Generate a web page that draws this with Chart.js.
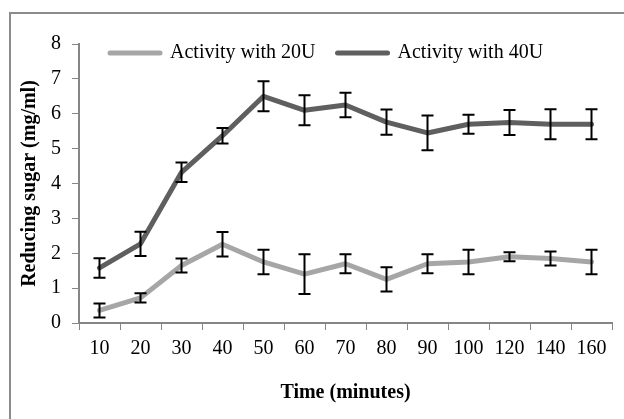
<!DOCTYPE html>
<html>
<head>
<meta charset="utf-8">
<script src="https://cdn.jsdelivr.net/npm/chart.js@4"></script>
<style>
  html, body { margin: 0; padding: 0; background: #fff; overflow: hidden; }
  #wrap { position: relative; width: 624px; height: 419px; overflow: hidden; }
  #frame { position: absolute; left: 9px; top: 12px; width: 700px; height: 500px; border: 2px solid #8c8c8c; box-sizing: border-box; }
  canvas { position: absolute; left: 0; top: 0; }
</style>
</head>
<body>
<div id="wrap">
  <div id="frame"></div>
  <canvas id="sugarChart" width="624" height="419"></canvas>
</div>
<script>
// Time points (minutes)
const timeLabels = ['10', '20', '30', '40', '50', '60', '70', '80', '90', '100', '120', '140', '160'];

// Reducing sugar (mg/ml)
const activity20 = [0.36, 0.72, 1.65, 2.26, 1.75, 1.40, 1.70, 1.25, 1.70, 1.75, 1.90, 1.85, 1.75];
const error20    = [0.20, 0.13, 0.20, 0.35, 0.35, 0.57, 0.27, 0.35, 0.27, 0.35, 0.13, 0.20, 0.35];

const activity40 = [1.58, 2.27, 4.32, 5.37, 6.50, 6.10, 6.25, 5.76, 5.45, 5.70, 5.75, 5.70, 5.70];
const error40    = [0.28, 0.35, 0.28, 0.22, 0.43, 0.43, 0.35, 0.36, 0.50, 0.27, 0.36, 0.43, 0.43];

const seriesNames = ['Activity with 20U', 'Activity with 40U'];

Chart.defaults.font.family = '"Liberation Serif", "Times New Roman", serif';
Chart.defaults.font.size = 20;
Chart.defaults.color = '#000';

// draws +/- error bars using the y scale
const errorBars = {
  id: 'errorBars',
  afterDatasetsDraw(chart) {
    const ctx = chart.ctx;
    const yScale = chart.scales.y;
    ctx.save();
    ctx.strokeStyle = '#000';
    ctx.lineWidth = 2;
    chart.data.datasets.forEach((ds, i) => {
      const meta = chart.getDatasetMeta(i);
      meta.data.forEach((pt, j) => {
        const yTop = yScale.getPixelForValue(ds.data[j] + ds.errors[j]);
        const yBot = yScale.getPixelForValue(ds.data[j] - ds.errors[j]);
        ctx.beginPath();
        ctx.moveTo(pt.x, yTop);
        ctx.lineTo(pt.x, yBot);
        ctx.moveTo(pt.x - 6, yTop);
        ctx.lineTo(pt.x + 6, yTop);
        ctx.moveTo(pt.x - 6, yBot);
        ctx.lineTo(pt.x + 6, yBot);
        ctx.stroke();
      });
    });
    ctx.restore();
  }
};

// legend sits inside the plot, near its top left
const legendNudge = {
  id: 'legendNudge',
  afterLayout(chart) {
    const lg = chart.legend;
    const area = chart.chartArea;
    lg.left = area.left + 9;
    lg.right = lg.left + area.width;
    lg.top = area.top - 23;
    lg.bottom = lg.top + lg.height;
  }
};

new Chart(document.getElementById('sugarChart'), {
  type: 'line',
  data: {
    labels: timeLabels,
    datasets: [
      {
        label: seriesNames[0],
        data: activity20,
        errors: error20,
        borderColor: '#a6a6a6',
        backgroundColor: '#a6a6a6',
        pointBorderColor: '#a6a6a6',
        borderWidth: 5,
        borderCapStyle: 'round',
        borderJoinStyle: 'round',
        pointRadius: 0,
        tension: 0,
        fill: false
      },
      {
        label: seriesNames[1],
        data: activity40,
        errors: error40,
        borderColor: '#5f5f5f',
        backgroundColor: '#5f5f5f',
        pointBorderColor: '#5f5f5f',
        borderWidth: 5,
        borderCapStyle: 'round',
        borderJoinStyle: 'round',
        pointRadius: 0,
        tension: 0,
        fill: false
      }
    ]
  },
  options: {
    responsive: false,
    animation: false,
    devicePixelRatio: 1,
    // legend box (52px tall) is pulled into the plot, so the top padding is negative
    layout: { padding: { top: -8, right: 12, bottom: 0, left: 0 } },
    plugins: {
      tooltip: { enabled: false },
      legend: {
        position: 'top',
        align: 'start',
        labels: {
          usePointStyle: true,
          pointStyle: 'line',
          pointStyleWidth: 50,
          padding: 22,
          color: '#000',
          font: { size: 20 },
          generateLabels(chart) {
            const items = Chart.defaults.plugins.legend.labels.generateLabels(chart);
            items.forEach(it => {
              it.lineCap = 'round';
              it.lineWidth = 5;
            });
            return items;
          }
        }
      }
    },
    scales: {
      x: {
        type: 'category',
        offset: true,
        grid: {
          offset: true,
          drawOnChartArea: false,
          drawTicks: true,
          tickLength: 7,
          color: '#868686',
          lineWidth: 1
        },
        border: { color: '#868686', width: 2 },
        ticks: { padding: 7, color: '#000', maxRotation: 0, autoSkip: false },
        title: {
          display: true,
          text: 'Time (minutes)',
          font: { size: 20, weight: 'bold', lineHeight: 1 },
          padding: { top: 15, bottom: 16 }
        }
      },
      y: {
        type: 'linear',
        min: 0,
        max: 8,
        grid: {
          drawOnChartArea: false,
          drawTicks: true,
          tickLength: 7,
          color: '#868686',
          lineWidth: 1
        },
        border: { color: '#868686', width: 2 },
        ticks: { stepSize: 1, padding: 11, color: '#000' },
        title: {
          display: true,
          text: 'Reducing sugar (mg/ml)',
          font: { size: 20, weight: 'bold', lineHeight: 1 },
          padding: { top: 20, bottom: 0 }
        }
      }
    }
  },
  plugins: [errorBars, legendNudge]
});
</script>
</body>
</html>
